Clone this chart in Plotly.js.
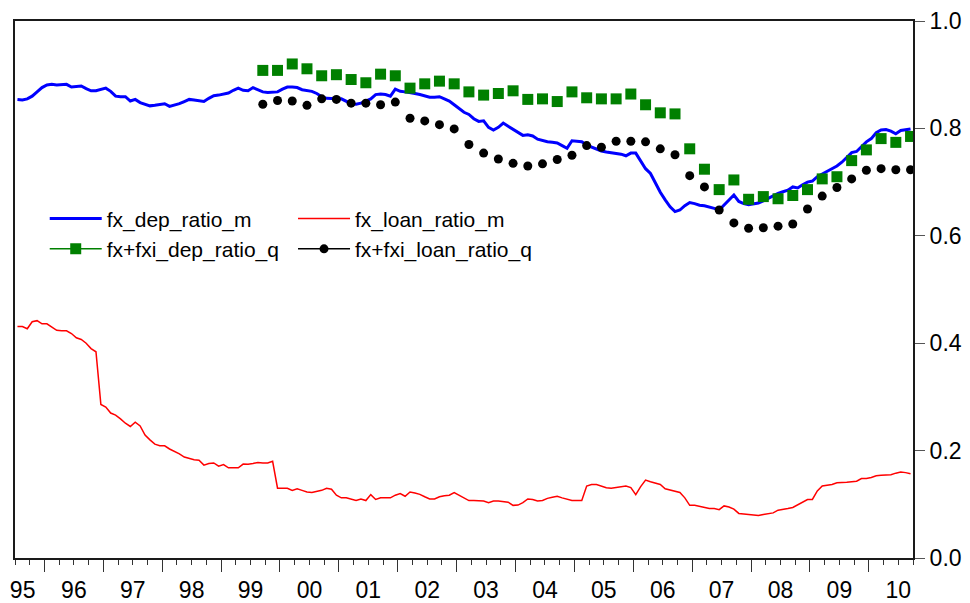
<!DOCTYPE html>
<html>
<head>
<meta charset="utf-8">
<script src="https://cdn.plot.ly/plotly-3.0.1.min.js"></script>
<style>html,body{margin:0;padding:0;background:#fff;}#chart{width:970px;height:603px;}</style>
</head>
<body>
<div id="chart"></div>
<script>
// Monthly series, Jul 1995 .. Sep 2010
const monthlyStart = {year: 1995, month: 7};
const fxDepRatioM = [
  // 1995 Jul-Dec
  0.854, 0.853, 0.855, 0.860, 0.868, 0.876,
  // 1996
  0.881, 0.882, 0.881, 0.882, 0.882, 0.877, 0.878, 0.879, 0.874, 0.870, 0.870, 0.873,
  // 1997
  0.875, 0.869, 0.860, 0.859, 0.859, 0.851, 0.854, 0.848, 0.845, 0.842, 0.843, 0.845,
  // 1998
  0.846, 0.841, 0.843, 0.846, 0.850, 0.854, 0.853, 0.851, 0.850, 0.856, 0.861, 0.862,
  // 1999
  0.864, 0.866, 0.871, 0.875, 0.871, 0.870, 0.876, 0.872, 0.868, 0.867, 0.868, 0.868,
  // 2000
  0.873, 0.877, 0.877, 0.876, 0.872, 0.870, 0.869, 0.865, 0.859, 0.856, 0.855, 0.855,
  // 2001
  0.855, 0.851, 0.846, 0.845, 0.847, 0.851, 0.855, 0.863, 0.864, 0.863, 0.860, 0.873,
  // 2002
  0.869, 0.868, 0.867, 0.865, 0.863, 0.861, 0.858, 0.858, 0.859, 0.855, 0.851, 0.844,
  // 2003
  0.837, 0.830, 0.826, 0.818, 0.813, 0.814, 0.802, 0.797, 0.802, 0.810, 0.804, 0.798,
  // 2004
  0.792, 0.787, 0.788, 0.786, 0.780, 0.777, 0.775, 0.774, 0.773, 0.768, 0.763, 0.777,
  // 2005
  0.776, 0.775, 0.769, 0.765, 0.761, 0.758, 0.756, 0.755, 0.754, 0.752, 0.749, 0.754,
  // 2006
  0.754, 0.740, 0.725, 0.716, 0.697, 0.681, 0.667, 0.654, 0.645, 0.648, 0.656, 0.662,
  // 2007
  0.660, 0.657, 0.656, 0.654, 0.651, 0.648, 0.658, 0.668, 0.676, 0.664, 0.660, 0.658,
  // 2008
  0.660, 0.661, 0.665, 0.670, 0.675, 0.679, 0.682, 0.685, 0.691, 0.689, 0.695, 0.700,
  // 2009
  0.702, 0.710, 0.715, 0.720, 0.725, 0.730, 0.737, 0.746, 0.755, 0.757, 0.767, 0.775,
  // 2010 Jan-Sep
  0.781, 0.792, 0.797, 0.798, 0.795, 0.790, 0.796, 0.797, 0.799
];
const fxLoanRatioM = [
  // 1995 Jul-Dec
  0.431, 0.431, 0.427, 0.440, 0.442, 0.436,
  // 1996
  0.436, 0.430, 0.424, 0.423, 0.423, 0.418, 0.410, 0.407, 0.400, 0.390, 0.384, 0.286,
  // 1997
  0.281, 0.270, 0.266, 0.259, 0.251, 0.245, 0.253, 0.246, 0.229, 0.220, 0.212, 0.209,
  // 1998
  0.209, 0.203, 0.199, 0.194, 0.188, 0.185, 0.183, 0.182, 0.173, 0.176, 0.177, 0.171,
  // 1999
  0.174, 0.168, 0.168, 0.168, 0.175, 0.1745, 0.176, 0.178, 0.177, 0.177, 0.180, 0.130,
  // 2000
  0.130, 0.130, 0.126, 0.129, 0.126, 0.123, 0.122, 0.124, 0.126, 0.130, 0.128, 0.117,
  // 2001
  0.112, 0.112, 0.110, 0.107, 0.110, 0.107, 0.118, 0.109, 0.112, 0.112, 0.112, 0.117,
  // 2002
  0.120, 0.115, 0.123, 0.121, 0.1185, 0.114, 0.110, 0.110, 0.114, 0.116, 0.117, 0.122,
  // 2003
  0.117, 0.111, 0.107, 0.107, 0.106, 0.106, 0.103, 0.106, 0.106, 0.105, 0.104, 0.098,
  // 2004
  0.0985, 0.103, 0.110, 0.109, 0.106, 0.107, 0.111, 0.113, 0.115, 0.112, 0.109, 0.107,
  // 2005
  0.107, 0.107, 0.134, 0.137, 0.137, 0.134, 0.131, 0.130, 0.131, 0.132, 0.134, 0.131,
  // 2006
  0.118, 0.133, 0.145, 0.142, 0.139, 0.137, 0.129, 0.127, 0.125, 0.122, 0.112, 0.098,
  // 2007
  0.098, 0.096, 0.093, 0.092, 0.092, 0.090, 0.097, 0.095, 0.091, 0.083, 0.082, 0.081,
  // 2008
  0.080, 0.079, 0.081, 0.083, 0.084, 0.089, 0.090, 0.092, 0.094, 0.099, 0.104, 0.109,
  // 2009
  0.109, 0.125, 0.134, 0.135, 0.137, 0.140, 0.140, 0.141, 0.142, 0.143, 0.148, 0.148,
  // 2010 Jan-Sep
  0.150, 0.153, 0.154, 0.155, 0.155, 0.158, 0.160, 0.159, 0.157
];

// Quarterly series, 1999Q3 .. 2010Q3
const quarterlyStart = {year: 1999, quarter: 3};
const fxFxiDepRatioQ = [
  0.908, 0.908, 0.920, 0.911, 0.898, 0.900, 0.891, 0.885, 0.901, 0.898,
  0.875, 0.883, 0.888, 0.883, 0.868, 0.862, 0.865, 0.870, 0.854, 0.855,
  0.850, 0.868, 0.857, 0.855, 0.855, 0.864, 0.844, 0.829, 0.827, 0.762,
  0.724, 0.686, 0.704, 0.668, 0.673, 0.669, 0.675, 0.686, 0.706, 0.710,
  0.740, 0.760, 0.781, 0.774, 0.785
];
const fxFxiLoanRatioQ = [
  0.845, 0.852, 0.851, 0.843, 0.855, 0.854, 0.847, 0.847, 0.844, 0.849,
  0.819, 0.814, 0.807, 0.799, 0.770, 0.754, 0.743, 0.735, 0.730, 0.734,
  0.742, 0.750, 0.768, 0.765, 0.776, 0.776, 0.775, 0.762, 0.751, 0.712,
  0.691, 0.648, 0.624, 0.614, 0.615, 0.618, 0.622, 0.650, 0.674, 0.690,
  0.706, 0.722, 0.725, 0.723, 0.723
];

const seriesNames = ['fx_dep_ratio_m', 'fx_loan_ratio_m', 'fx+fxi_dep_ratio_q', 'fx+fxi_loan_ratio_q'];
const yearLabels = ['95','96','97','98','99','00','01','02','03','04','05','06','07','08','09','10'];
const yearLabelYears = [1995,1996,1997,1998,1999,2000,2001,2002,2003,2004,2005,2006,2007,2008,2009,2010];

// Position of a month (centre of the month) on a decimal-year axis
function monthPos(y, m) { return y + (m - 0.5) / 12; }
const monthX = fxDepRatioM.map((_, i) => {
  const k = monthlyStart.month - 1 + i;
  return monthPos(monthlyStart.year + Math.floor(k / 12), (k % 12) + 1);
});
// Quarterly obs sit on the last month of each quarter; gaps between them (like NA months)
function quarterlyTrace(vals) {
  const xs = [], ys = [];
  vals.forEach((v, i) => {
    const k = quarterlyStart.quarter - 1 + i;
    const yr = quarterlyStart.year + Math.floor(k / 4);
    const q = (k % 4) + 1;
    xs.push(monthPos(yr, 3 * q));
    ys.push(v);
    if (i < vals.length - 1) { xs.push(monthPos(yr, 3 * q) + 1 / 12); ys.push(null); }
  });
  return {xs, ys};
}
const qDep = quarterlyTrace(fxFxiDepRatioQ);
const qLoan = quarterlyTrace(fxFxiLoanRatioQ);

const axisStart = 1995.5, axisEnd = 2010.75;
const labelPos = yearLabelYears.map(y => Math.max(y + 0.5, axisStart + 0.13));

const FONT = 'Liberation Sans, Arial, sans-serif';

const traces = [
  {x: monthX, y: fxDepRatioM, name: seriesNames[0], type: 'scatter', mode: 'lines',
   legend: 'legend', line: {color: '#0000FF', width: 3}},
  {x: monthX, y: fxLoanRatioM, name: seriesNames[1], type: 'scatter', mode: 'lines',
   legend: 'legend2', line: {color: '#FF0000', width: 1.5}},
  {x: qDep.xs, y: qDep.ys, name: seriesNames[2], type: 'scatter', mode: 'lines+markers',
   legend: 'legend', connectgaps: false, line: {color: '#008000', width: 1.5},
   marker: {symbol: 'square', size: 11, color: '#008000'}},
  {x: qLoan.xs, y: qLoan.ys, name: seriesNames[3], type: 'scatter', mode: 'lines+markers',
   legend: 'legend2', connectgaps: false, line: {color: '#000000', width: 1.5},
   marker: {symbol: 'circle', size: 9, color: '#000000'}},
  {x: [], y: [], xaxis: 'x2', showlegend: false, hoverinfo: 'skip', type: 'scatter'}
];

const legendCommon = {
  orientation: 'v', yanchor: 'top', xanchor: 'left', y: 0.6696,
  font: {family: FONT, size: 21, color: '#000000'},
  bgcolor: 'rgba(0,0,0,0)', borderwidth: 0, itemwidth: 52, traceorder: 'normal'
};

const layout = {
  width: 970, height: 603,
  margin: {l: 15, r: 57, t: 21, b: 45},
  paper_bgcolor: '#ffffff', plot_bgcolor: '#ffffff',
  font: {family: FONT, size: 23, color: '#000000'},
  showlegend: true,
  legend: Object.assign({}, legendCommon, {x: 0.0331}),
  legend2: Object.assign({}, legendCommon, {x: 0.3096}),
  xaxis: {
    range: [axisStart, axisEnd], showgrid: false, zeroline: false,
    showline: true, linecolor: '#1a1a1a', linewidth: 2, mirror: true,
    tickmode: 'linear', tick0: 1996, dtick: 1,
    ticks: 'outside', ticklen: 12, tickwidth: 1, tickcolor: '#333333',
    showticklabels: false,
    minor: {tickmode: 'linear', tick0: 1996, dtick: 0.25, ticks: 'outside', ticklen: 5, tickwidth: 1, tickcolor: '#333333', showgrid: false}
  },
  xaxis2: {
    overlaying: 'x', anchor: 'y', side: 'bottom',
    range: [axisStart, axisEnd], showgrid: false, zeroline: false, showline: false,
    tickmode: 'array', tickvals: labelPos, ticktext: yearLabels,
    ticks: 'outside', ticklen: 11, tickcolor: 'rgba(0,0,0,0)',
    tickfont: {family: FONT, size: 23, color: '#000000'}
  },
  yaxis: {
    side: 'right', range: [0, 1], showgrid: false, zeroline: false,
    showline: true, linecolor: '#1a1a1a', linewidth: 2, mirror: true,
    tickmode: 'linear', tick0: 0, dtick: 0.2, tickformat: '.1f',
    ticks: 'outside', ticklen: 10, tickwidth: 1, tickcolor: '#555555',
    tickfont: {family: FONT, size: 23, color: '#000000'}
  }
};

Plotly.newPlot('chart', traces, layout, {displayModeBar: false, staticPlot: true});
</script>
</body>
</html>
